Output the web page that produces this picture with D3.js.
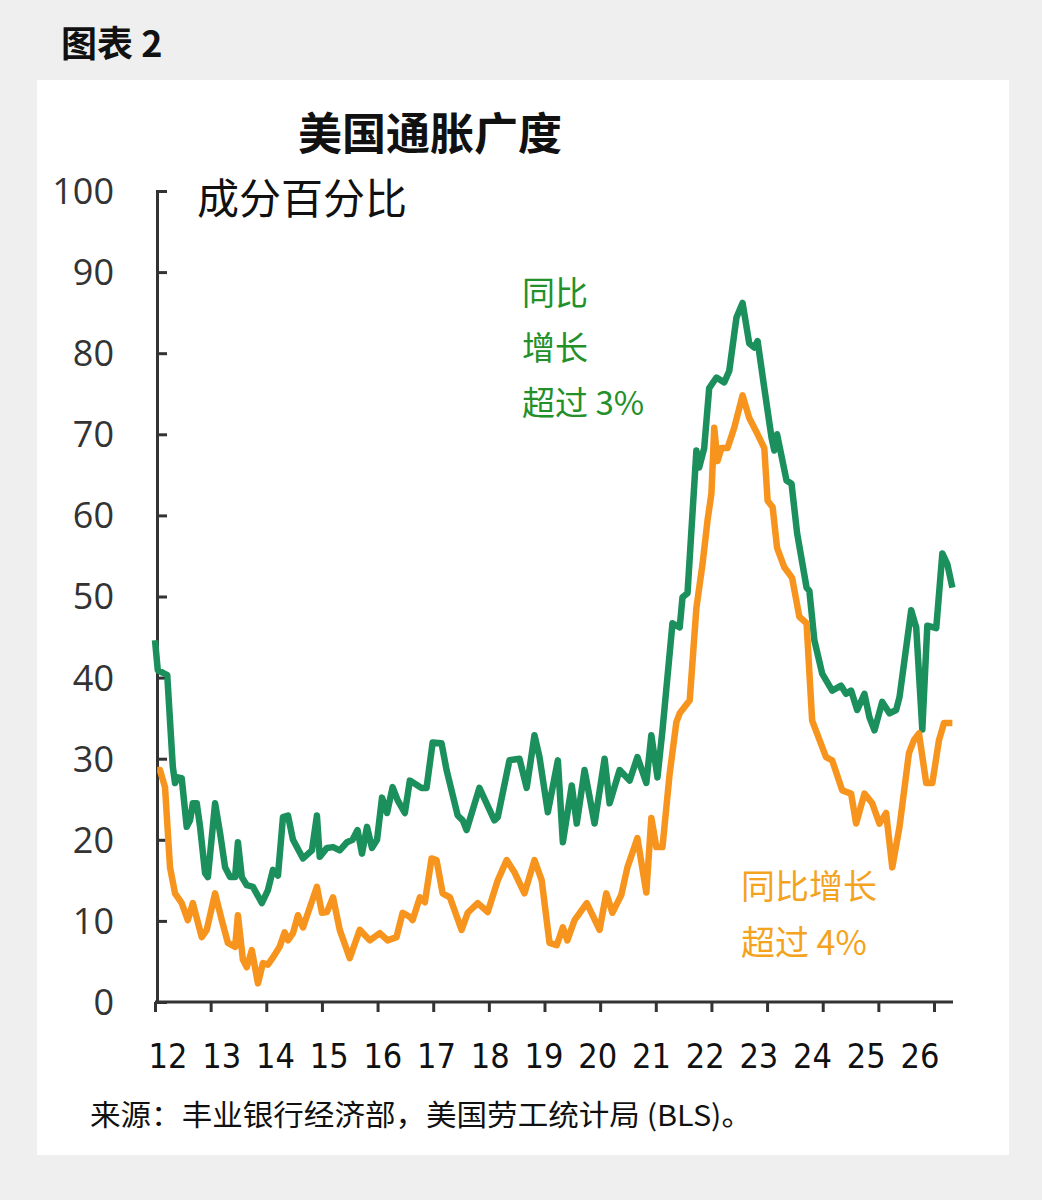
<!DOCTYPE html>
<html>
<head>
<meta charset="utf-8">
<script src="https://cdn.jsdelivr.net/npm/d3@7"></script>
<style>
  body { margin: 0; background: #efefef; }
  svg { display: block; }
</style>
</head>
<body>
<svg width="1042" height="1200"></svg>
<script>
// tick labels
const years = ["12","13","14","15","16","17","18","19","20","21","22","23","24","25","26"]
const yTicks = [0, 10, 20, 30, 40, 50, 60, 70, 80, 90, 100]

// [years since Jan 2012, % of components]
const above3 = [
  [0.00,44.6],[0.05,40.9],[0.14,40.6],[0.22,40.3],[0.32,29],[0.36,27],[0.41,27.7],[0.48,27.6],
  [0.57,21.6],[0.63,22.4],[0.68,24.5],[0.75,24.5],[0.81,21.6],[0.90,15.9],[0.95,15.4],[1.08,24.5],
  [1.17,20.8],[1.26,16.6],[1.35,15.4],[1.44,15.4],[1.49,19.7],[1.56,15.4],[1.65,14.4],[1.76,14.2],
  [1.92,12.2],[2.03,13.8],[2.12,16.3],[2.21,15.6],[2.30,22.8],[2.39,23],[2.48,20],[2.66,17.7],
  [2.82,18.7],[2.91,23],[2.96,17.9],[3.09,19],[3.20,19.1],[3.32,18.7],[3.45,19.7],[3.55,20],
  [3.64,21.2],[3.72,18.3],[3.81,21.6],[3.90,19],[3.99,20],[4.08,25.2],[4.17,23.3],[4.27,26.5],
  [4.36,24.9],[4.49,23.3],[4.58,27.3],[4.79,26.4],[4.88,26.4],[4.99,32],[5.15,31.9],[5.24,28.6],
  [5.44,23],[5.53,22.4],[5.60,21.2],[5.83,26.4],[6.10,22.4],[6.16,22.8],[6.37,29.8],[6.55,30],
  [6.68,26.4],[6.82,32.9],[6.91,30.2],[7.06,23.4],[7.24,29.8],[7.33,19.7],[7.49,26.7],[7.58,22],
  [7.72,28.6],[7.90,22],[8.08,30],[8.17,24.5],[8.35,28.6],[8.53,27.3],[8.67,30.2],[8.83,27],
  [8.92,32.9],[9.03,27.7],[9.12,33.5],[9.30,46.7],[9.43,46.2],[9.48,49.9],[9.57,50.4],[9.73,68],
  [9.78,65.9],[9.87,68.3],[9.96,75.7],[10.09,77],[10.23,76.4],[10.32,77.8],[10.45,84.4],[10.56,86.2],
  [10.68,81.2],[10.77,80.7],[10.83,81.5],[10.95,75.7],[11.08,69.6],[11.13,68],[11.18,70],[11.35,64.3],
  [11.44,63.9],[11.54,57.8],[11.71,51.1],[11.76,50.7],[11.85,44.6],[11.99,40.5],[12.17,38.4],[12.33,39],
  [12.42,38],[12.51,38.4],[12.62,36],[12.75,38],[12.84,35.1],[12.93,33.5],[13.07,37],[13.20,35.6],
  [13.32,36],[13.38,37.6],[13.59,48.3],[13.68,46.2],[13.79,33.6],[13.88,46.4],[14.04,46.1],[14.15,55.3],
  [14.24,54],[14.33,51.1]
]

const above4 = [
  [0.04,28.6],[0.09,28.6],[0.18,26.5],[0.27,16.6],[0.36,13.4],[0.48,12.2],[0.59,10.1],[0.68,12.2],
  [0.84,8],[0.93,8.9],[1.08,13.4],[1.20,10.1],[1.31,7.3],[1.44,6.8],[1.49,10.7],[1.58,5.2],
  [1.65,4.3],[1.74,6.4],[1.85,2.3],[1.94,4.8],[2.03,4.6],[2.12,5.5],[2.24,6.8],[2.33,8.6],
  [2.39,7.6],[2.48,8.5],[2.57,10.7],[2.66,9.2],[2.75,11],[2.91,14.2],[3.00,11],[3.09,11.1],
  [3.20,12.9],[3.32,8.9],[3.50,5.4],[3.68,8.9],[3.86,7.6],[4.04,8.5],[4.18,7.6],[4.34,8],
  [4.45,11],[4.58,10.5],[4.63,10.1],[4.76,12.9],[4.85,12.3],[4.97,17.7],[5.06,17.5],[5.17,13.4],
  [5.30,12.9],[5.51,8.9],[5.62,11],[5.80,12.2],[5.98,11.1],[6.16,15],[6.32,17.5],[6.46,16],
  [6.64,13.4],[6.82,17.5],[6.95,15],[7.09,7.3],[7.22,7],[7.33,9.2],[7.41,7.6],[7.54,10.1],
  [7.76,12.2],[7.99,8.9],[8.11,13.4],[8.22,11],[8.38,13.2],[8.49,16.6],[8.67,20.2],[8.83,13.5],
  [8.92,22.7],[9.01,19.1],[9.12,19.1],[9.25,28.2],[9.37,34.5],[9.43,35.6],[9.61,37.2],[9.73,48.6],
  [9.84,54],[9.93,59.4],[10.00,62.7],[10.05,70.8],[10.11,66.7],[10.18,68.3],[10.29,68.3],[10.41,70.8],
  [10.56,74.8],[10.68,72],[10.83,70],[10.95,68.3],[11.01,61.8],[11.10,61],[11.18,56],[11.31,53.6],
  [11.45,52.3],[11.58,47.5],[11.71,46.7],[11.81,34.7],[12.06,30.2],[12.17,29.8],[12.35,26.1],[12.51,25.7],
  [12.60,22],[12.75,25.7],[12.89,24.5],[13.02,22],[13.14,23.3],[13.25,16.6],[13.38,21.6],[13.55,30.7],
  [13.64,32.3],[13.73,33.1],[13.86,27],[13.97,27],[14.09,32.3],[14.18,34.4],[14.33,34.4]
]

const greenLine = "#1b8f5c"
const orangeLine = "#f7941d"
const cjk = "'Noto Sans CJK SC', 'Noto Sans', sans-serif"
const narrow = "'Liberation Sans Narrow', 'DejaVu Sans Condensed', 'Roboto', sans-serif"

var svg = d3.select("svg")

// white panel
svg.append("rect")
  .attr("x", 37).attr("y", 80)
  .attr("width", 972).attr("height", 1075)
  .attr("fill", "#ffffff")

svg.append("text")
  .attr("x", 61).attr("y", 57)
  .attr("font-family", cjk).attr("font-size", 36).attr("font-weight", 700)
  .attr("fill", "#111")
  .text("图表 2")

svg.append("text")
  .attr("x", 430).attr("y", 150)
  .attr("text-anchor", "middle")
  .attr("font-family", cjk).attr("font-size", 44).attr("font-weight", 700)
  .attr("fill", "#111")
  .text("美国通胀广度")

svg.append("text")
  .attr("x", 197).attr("y", 214)
  .attr("font-family", cjk).attr("font-size", 42)
  .attr("fill", "#111")
  .text("成分百分比")

const x = d3.scaleLinear().domain([0, 14]).range([155, 934])
const y = d3.scaleLinear().domain([0, 100]).range([1002, 191])
// labels sit a bit off the ticks in the original
const xLabel = d3.scalePoint().domain(years).range([168, 920])

// y axis
const yAxis = svg.append("g")
  .attr("transform", "translate(157,0)")
  .call(d3.axisRight(y).tickValues(yTicks).tickSize(10).tickFormat(""))
yAxis.select(".domain").attr("stroke", "#333").attr("stroke-width", 3)
yAxis.selectAll(".tick line").attr("stroke", "#333").attr("stroke-width", 3)

svg.append("g").selectAll("text")
  .data(yTicks)
  .join("text")
  .attr("x", 114)
  .attr("y", d => y(d))
  .attr("dy", "0.36em")
  .attr("text-anchor", "end")
  .attr("font-family", "'Open Sans', sans-serif")
  .attr("font-size", 36)
  .attr("fill", "#333")
  .text(d => d)

// x axis
const xAxis = svg.append("g")
  .attr("transform", "translate(0,1002)")
  .call(d3.axisBottom(x).tickValues(d3.range(0, 15)).tickSize(10).tickSizeOuter(0).tickFormat(""))
xAxis.select(".domain").attr("d", "M155,0H953").attr("stroke", "#333").attr("stroke-width", 3)
xAxis.selectAll(".tick line").attr("stroke", "#333").attr("stroke-width", 3)

svg.append("g").selectAll("text")
  .data(years)
  .join("text")
  .attr("x", d => xLabel(d))
  .attr("y", 1068)
  .attr("text-anchor", "middle")
  .attr("font-family", narrow)
  .attr("font-size", 34)
  .attr("fill", "#111")
  .text(d => d)

// lines
const line = d3.line()
  .x(d => x(d[0]))
  .y(d => y(d[1]))

svg.append("path")
  .datum(above3)
  .attr("d", line)
  .attr("fill", "none")
  .attr("stroke", greenLine)
  .attr("stroke-width", 6.5)
  .attr("stroke-linejoin", "round")

svg.append("path")
  .datum(above4)
  .attr("d", line)
  .attr("fill", "none")
  .attr("stroke", orangeLine)
  .attr("stroke-width", 6.5)
  .attr("stroke-linejoin", "round")

// series labels
const greenText = ["同比", "增长", "超过 3%"]
svg.append("g").selectAll("text")
  .data(greenText)
  .join("text")
  .attr("x", 522)
  .attr("y", (d, i) => 305 + i * 55)
  .attr("font-family", cjk).attr("font-size", 33)
  .attr("fill", "#23902a")
  .text(d => d)

const orangeText = ["同比增长", "超过 4%"]
svg.append("g").selectAll("text")
  .data(orangeText)
  .join("text")
  .attr("x", 741)
  .attr("y", (d, i) => 899 + i * 56)
  .attr("font-family", cjk).attr("font-size", 34)
  .attr("fill", "#f4a31e")
  .text(d => d)

svg.append("text")
  .attr("x", 90).attr("y", 1126)
  .attr("font-family", cjk).attr("font-size", 29)
  .attr("textLength", 662).attr("lengthAdjust", "spacingAndGlyphs")
  .attr("fill", "#111")
  .text("来源：丰业银行经济部，美国劳工统计局 (BLS)。")
</script>
</body>
</html>
